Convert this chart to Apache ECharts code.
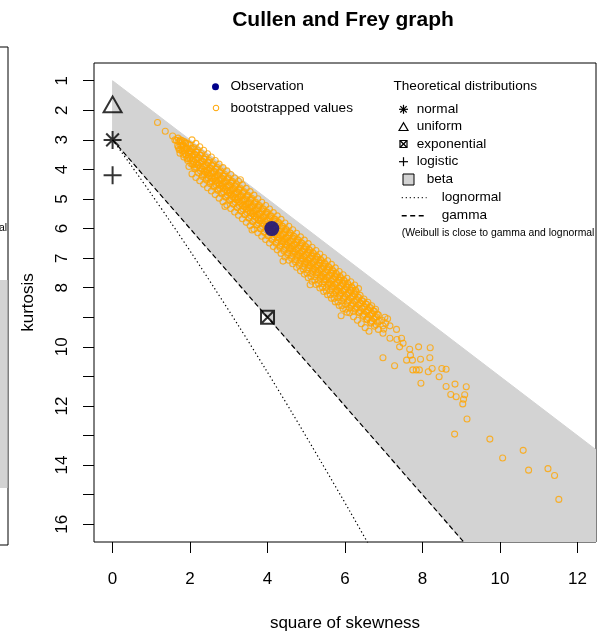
<!DOCTYPE html>
<html>
<head>
<meta charset="utf-8">
<script src="https://cdn.jsdelivr.net/npm/echarts@6/dist/echarts.min.js"></script>
<style>
  html, body { margin: 0; padding: 0; background: #ffffff; }
  #chart { width: 603px; height: 639px; }
</style>
</head>
<body>
<div id="chart"></div>
<script>
// Axis ticks and labels
const xTickValues = [0, 2, 4, 6, 8, 10, 12];
const yTickValues = [1, 2, 3, 4, 5, 6, 7, 8, 9, 10, 11, 12, 13, 14, 15, 16];
const yLabelValues = [1, 2, 3, 4, 5, 6, 7, 8, 10, 12, 14, 16];

// Observed sample: [square of skewness, kurtosis]
const observation = [[4.11, 6.0]];

// Theoretical distributions (points)
const normalPoint = [[0, 3]];
const uniformPoint = [[0, 1.8]];
const exponentialPoint = [[4, 9]];
const logisticPoint = [[0, 4.2]];

// Theoretical distributions (curves)
const gammaLine = [[0, 3], [9.5, 17.25]];
const lognormalLine = [
  [0, 3], [0.229, 3.41], [0.465, 3.84], [0.709, 4.29], [0.961, 4.76],
  [1.488, 5.76], [2.048, 6.85], [2.641, 8.04], [3.267, 9.32], [3.928, 10.71],
  [4.624, 12.21], [5.356, 13.83], [6.125, 15.56], [6.931, 17.43]
];

// Beta region limits
const betaUpper = [[0, 1], [16, 17]];
const betaLower = [[0, 3], [11, 19.5]];

// Bootstrapped values: [square of skewness, kurtosis]
const bootstrapped = [
  [1.16,2.41],[1.36,2.71],[1.55,2.87],[1.61,3.00],
  [1.65,3.02],[1.68,3.20],
  [1.74,3.05],[1.76,3.31],[1.79,3.18],
  [1.83,3.22],[1.86,3.45],[1.88,3.12],[1.84,3.36],
  [1.93,3.30],[1.96,3.55],[1.98,3.38],[1.94,3.62],
  [2.03,3.41],[2.06,3.70],[2.08,3.52],[2.02,3.29],[2.07,3.84],
  [2.13,3.50],[2.16,3.79],[2.18,3.63],[2.12,3.92],[2.17,3.41],
  [2.23,3.61],[2.26,3.95],[2.28,3.74],[2.22,3.86],[2.27,3.52],
  [2.33,3.73],[2.36,4.06],[2.38,3.88],[2.32,4.18],[2.37,3.65],
  [2.43,3.84],[2.46,4.15],[2.48,4.01],[2.42,4.30],[2.47,3.77],[2.44,4.08],
  [2.53,3.95],[2.56,4.28],[2.58,4.11],[2.52,4.42],[2.57,3.86],
  [2.63,4.07],[2.66,4.38],[2.68,4.22],[2.62,4.55],[2.67,3.98],[2.64,4.30],
  [2.73,4.18],[2.76,4.51],[2.78,4.34],[2.72,4.66],[2.77,4.09],
  [2.83,4.30],[2.86,4.62],[2.88,4.45],[2.82,4.79],[2.87,4.21],[2.84,4.55],
  [2.93,4.41],[2.96,4.74],[2.98,4.57],[2.92,4.91],[2.97,4.30],[2.90,5.25],
  [3.03,4.53],[3.06,4.86],[3.08,4.69],[3.02,5.02],[3.07,4.42],[3.04,4.78],
  [3.13,4.64],[3.16,4.97],[3.18,4.81],[3.12,5.15],[3.17,4.55],
  [3.23,4.76],[3.26,5.09],[3.28,4.92],[3.22,5.28],[3.27,4.66],[3.24,5.01],
  [3.33,4.88],[3.36,5.22],[3.38,5.04],[3.32,5.40],[3.37,4.77],[3.30,4.35],
  [3.43,4.99],[3.46,5.33],[3.48,5.16],[3.42,5.52],[3.47,4.89],[3.44,5.25],
  [3.53,5.10],[3.56,5.46],[3.58,5.27],[3.52,5.63],[3.57,5.01],[3.60,6.05],
  [3.63,5.22],[3.66,5.57],[3.68,5.39],[3.62,5.76],[3.67,5.12],[3.64,5.49],
  [3.73,5.33],[3.76,5.70],[3.78,5.51],[3.72,5.88],[3.77,5.23],
  [3.83,5.45],[3.86,5.81],[3.88,5.62],[3.82,6.01],[3.87,5.34],[3.84,5.73],
  [3.93,5.56],[3.96,5.94],[3.98,5.74],[3.92,6.13],[3.97,5.46],
  [4.03,5.68],[4.06,6.05],[4.08,5.86],[4.02,6.25],[4.07,5.57],[4.04,5.97],
  [4.13,5.79],[4.16,6.18],[4.18,5.98],[4.12,6.38],[4.17,5.69],
  [4.23,5.91],[4.26,6.29],[4.28,6.09],[4.22,6.50],[4.27,5.80],[4.24,6.21],
  [4.33,6.02],[4.36,6.42],[4.38,6.21],[4.32,6.63],[4.37,5.92],[4.40,7.10],
  [4.43,6.14],[4.46,6.53],[4.48,6.33],[4.42,6.75],[4.47,6.03],[4.44,6.45],
  [4.53,6.25],[4.56,6.66],[4.58,6.44],[4.52,6.88],[4.57,6.14],
  [4.63,6.37],[4.66,6.77],[4.68,6.56],[4.62,7.00],[4.67,6.26],[4.64,6.69],
  [4.73,6.48],[4.76,6.90],[4.78,6.68],[4.72,7.12],[4.77,6.37],
  [4.83,6.60],[4.86,7.01],[4.88,6.79],[4.82,7.25],[4.87,6.48],[4.84,6.93],
  [4.93,6.71],[4.96,7.14],[4.98,6.91],[4.92,7.37],[4.97,6.60],
  [5.03,6.83],[5.06,7.25],[5.08,7.03],[5.02,7.50],[5.07,6.71],[5.04,7.17],[5.10,7.90],
  [5.13,6.94],[5.16,7.38],[5.18,7.15],[5.12,7.62],[5.17,6.82],
  [5.23,7.06],[5.26,7.49],[5.28,7.26],[5.22,7.74],[5.27,6.94],[5.24,7.41],
  [5.33,7.17],[5.36,7.62],[5.38,7.38],[5.32,7.87],[5.37,7.05],
  [5.43,7.29],[5.46,7.73],[5.48,7.50],[5.42,7.99],[5.47,7.16],[5.44,7.64],
  [5.53,7.40],[5.56,7.86],[5.58,7.61],[5.52,8.11],[5.57,7.28],
  [5.63,7.52],[5.66,7.97],[5.68,7.73],[5.62,8.24],[5.67,7.39],[5.64,7.88],
  [5.73,7.63],[5.76,8.10],[5.78,7.85],[5.72,8.36],[5.77,7.51],
  [5.83,7.75],[5.86,8.21],[5.88,7.96],[5.82,8.48],[5.87,7.62],[5.84,8.12],
  [5.93,7.86],[5.96,8.34],[5.98,8.08],[5.92,8.61],[5.97,7.74],[5.90,8.95],
  [6.03,7.98],[6.06,8.45],[6.08,8.20],[6.02,8.73],[6.07,7.85],
  [6.13,8.09],[6.16,8.58],[6.18,8.31],[6.12,8.85],[6.17,7.97],
  [6.23,8.21],[6.26,8.69],[6.28,8.43],[6.22,8.98],[6.27,8.08],
  [6.33,8.32],[6.36,8.82],[6.38,8.55],[6.32,9.10],
  [6.43,8.44],[6.46,8.93],[6.48,8.66],[6.42,9.22],
  [6.53,8.55],[6.56,9.06],[6.58,8.78],[6.52,9.35],
  [6.63,8.67],[6.66,9.17],[6.68,8.90],[6.62,9.47],
  [6.73,8.78],[6.76,9.30],[6.78,9.01],
  [6.83,8.90],[6.86,9.41],[6.88,9.13],
  [1.69,2.94],[1.71,3.06],[1.70,3.26],[1.72,3.33],
  [1.79,3.02],[1.81,3.16],[1.80,3.38],[1.82,3.49],
  [1.89,3.10],[1.91,3.28],[1.90,3.51],[1.92,3.63],
  [1.99,3.17],[2.01,3.38],[2.00,3.63],[2.02,3.80],
  [2.09,3.26],[2.11,3.49],[2.10,3.75],[2.12,3.98],
  [2.19,3.34],[2.21,3.60],[2.20,3.86],[2.22,4.12],
  [2.29,3.46],[2.31,3.72],[2.30,3.98],[2.32,4.24],
  [2.39,3.58],[2.41,3.84],[2.40,4.10],[2.42,4.36],
  [2.49,3.70],[2.51,3.96],[2.50,4.22],[2.52,4.48],
  [2.59,3.81],[2.61,4.07],[2.60,4.33],[2.62,4.59],
  [2.69,3.93],[2.71,4.19],[2.70,4.45],[2.72,4.71],
  [2.79,4.05],[2.81,4.31],[2.80,4.57],[2.82,4.83],
  [2.89,4.16],[2.91,4.42],[2.90,4.68],[2.92,4.94],
  [2.99,4.28],[3.01,4.54],[3.00,4.80],[3.02,5.06],
  [3.09,4.40],[3.11,4.66],[3.10,4.92],[3.12,5.18],
  [3.19,4.51],[3.21,4.77],[3.20,5.03],[3.22,5.29],
  [3.29,4.63],[3.31,4.89],[3.30,5.15],[3.32,5.41],
  [3.39,4.75],[3.41,5.01],[3.40,5.27],[3.42,5.53],
  [3.49,4.87],[3.51,5.13],[3.50,5.39],[3.52,5.65],
  [3.59,4.98],[3.61,5.24],[3.60,5.50],[3.62,5.76],
  [3.69,5.10],[3.71,5.36],[3.70,5.62],[3.72,5.88],
  [3.79,5.22],[3.81,5.48],[3.80,5.74],[3.82,6.00],
  [3.89,5.33],[3.91,5.59],[3.90,5.85],[3.92,6.11],
  [3.99,5.45],[4.01,5.71],[4.00,5.97],[4.02,6.23],
  [4.09,5.57],[4.11,5.83],[4.10,6.09],[4.12,6.35],
  [4.19,5.68],[4.21,5.94],[4.20,6.20],[4.22,6.46],
  [4.29,5.80],[4.31,6.06],[4.30,6.32],[4.32,6.58],
  [4.39,5.92],[4.41,6.18],[4.40,6.44],[4.42,6.70],
  [4.49,6.04],[4.51,6.30],[4.50,6.56],[4.52,6.82],
  [4.59,6.15],[4.61,6.41],[4.60,6.67],[4.62,6.93],
  [4.69,6.27],[4.71,6.53],[4.70,6.79],[4.72,7.05],
  [4.79,6.39],[4.81,6.65],[4.80,6.91],[4.82,7.17],
  [4.89,6.50],[4.91,6.76],[4.90,7.02],[4.92,7.28],
  [4.99,6.62],[5.01,6.88],[5.00,7.14],[5.02,7.40],
  [5.09,6.74],[5.11,7.00],[5.10,7.26],[5.12,7.52],
  [5.19,6.85],[5.21,7.11],[5.20,7.37],[5.22,7.63],
  [5.29,6.97],[5.31,7.23],[5.30,7.49],[5.32,7.75],
  [5.39,7.09],[5.41,7.35],[5.40,7.61],[5.42,7.87],
  [5.49,7.21],[5.51,7.47],[5.50,7.73],[5.52,7.99],
  [5.59,7.32],[5.61,7.58],[5.60,7.84],[5.62,8.10],
  [5.69,7.44],[5.71,7.70],[5.70,7.96],[5.72,8.22],
  [5.79,7.56],[5.81,7.82],[5.80,8.08],[5.82,8.34],
  [5.89,7.67],[5.91,7.93],[5.90,8.19],[5.92,8.45],
  [5.99,7.79],[6.01,8.05],[6.00,8.31],[6.02,8.57],
  [6.09,7.91],[6.11,8.17],[6.10,8.43],[6.12,8.69],
  [6.19,8.02],[6.21,8.28],[6.20,8.54],[6.22,8.80],
  [6.29,8.14],[6.31,8.40],[6.30,8.66],
  [6.39,8.26],[6.41,8.52],[6.40,8.78],
  [6.49,8.38],[6.51,8.64],[6.50,8.90],
  [6.59,8.49],[6.61,8.75],[6.60,9.01],
  [6.69,8.61],[6.71,8.87],[6.70,9.13],
  [6.79,8.73],[6.81,8.99],[6.80,9.25],
  [1.75,3.00],[1.76,3.20],[1.74,3.45],
  [1.85,3.06],[1.86,3.32],[1.84,3.58],
  [1.95,3.13],[1.96,3.43],[1.94,3.70],[1.97,3.90],
  [2.05,3.00],[2.06,3.30],[2.04,3.55],[2.07,3.82],[2.05,4.15],
  [2.15,3.12],[2.16,3.42],[2.14,3.67],[2.17,3.94],[2.15,4.27],
  [2.25,3.23],[2.26,3.53],[2.24,3.78],[2.27,4.05],[2.25,4.38],
  [2.35,3.35],[2.36,3.65],[2.34,3.90],[2.37,4.17],[2.35,4.50],
  [2.45,3.47],[2.46,3.77],[2.44,4.02],[2.47,4.29],[2.45,4.62],
  [2.55,3.58],[2.56,3.88],[2.54,4.13],[2.57,4.40],[2.55,4.73],
  [2.65,3.70],[2.66,4.00],[2.64,4.25],[2.67,4.52],[2.65,4.85],
  [2.75,3.82],[2.76,4.12],[2.74,4.37],[2.77,4.64],[2.75,4.97],
  [2.85,3.94],[2.86,4.24],[2.84,4.49],[2.87,4.76],[2.85,5.09],
  [2.95,4.05],[2.96,4.35],[2.94,4.60],[2.97,4.87],[2.95,5.20],
  [3.05,4.17],[3.06,4.47],[3.04,4.72],[3.07,4.99],[3.05,5.32],
  [3.15,4.29],[3.16,4.59],[3.14,4.84],[3.17,5.11],[3.15,5.44],
  [3.25,4.40],[3.26,4.70],[3.24,4.95],[3.27,5.22],[3.25,5.55],
  [3.35,4.52],[3.36,4.82],[3.34,5.07],[3.37,5.34],[3.35,5.67],
  [3.45,4.64],[3.46,4.94],[3.44,5.19],[3.47,5.46],[3.45,5.79],
  [3.55,4.75],[3.56,5.05],[3.54,5.30],[3.57,5.57],[3.55,5.90],
  [3.65,4.87],[3.66,5.17],[3.64,5.42],[3.67,5.69],[3.65,6.02],
  [3.75,4.99],[3.76,5.29],[3.74,5.54],[3.77,5.81],[3.75,6.14],
  [3.85,5.11],[3.86,5.41],[3.84,5.66],[3.87,5.93],[3.85,6.26],
  [3.95,5.22],[3.96,5.52],[3.94,5.77],[3.97,6.04],[3.95,6.37],
  [4.05,5.34],[4.06,5.64],[4.04,5.89],[4.07,6.16],[4.05,6.49],
  [4.15,5.46],[4.16,5.76],[4.14,6.01],[4.17,6.28],[4.15,6.61],
  [4.25,5.57],[4.26,5.87],[4.24,6.12],[4.27,6.39],[4.25,6.72],
  [4.35,5.69],[4.36,5.99],[4.34,6.24],[4.37,6.51],[4.35,6.84],
  [4.45,5.81],[4.46,6.11],[4.44,6.36],[4.47,6.63],[4.45,6.96],
  [4.55,5.92],[4.56,6.22],[4.54,6.47],[4.57,6.74],[4.55,7.07],
  [4.65,6.04],[4.66,6.34],[4.64,6.59],[4.67,6.86],[4.65,7.19],
  [4.75,6.16],[4.76,6.46],[4.74,6.71],[4.77,6.98],[4.75,7.31],
  [4.85,6.28],[4.86,6.58],[4.84,6.83],[4.87,7.10],[4.85,7.43],
  [4.95,6.39],[4.96,6.69],[4.94,6.94],[4.97,7.21],[4.95,7.54],
  [5.05,6.51],[5.06,6.81],[5.04,7.06],[5.07,7.33],[5.05,7.66],
  [5.15,6.63],[5.16,6.93],[5.14,7.18],[5.17,7.45],[5.15,7.78],
  [5.25,6.74],[5.26,7.04],[5.24,7.29],[5.27,7.56],[5.25,7.89],
  [5.35,6.86],[5.36,7.16],[5.34,7.41],[5.37,7.68],[5.35,8.01],
  [5.45,6.98],[5.46,7.28],[5.44,7.53],[5.47,7.80],[5.45,8.13],
  [5.55,7.09],[5.56,7.39],[5.54,7.64],[5.57,7.91],[5.55,8.24],
  [5.65,7.21],[5.66,7.51],[5.64,7.76],[5.67,8.03],[5.65,8.36],
  [5.75,7.33],[5.76,7.63],[5.74,7.88],[5.77,8.15],[5.75,8.48],
  [5.85,7.45],[5.86,7.75],[5.84,8.00],[5.87,8.27],[5.85,8.60],
  [5.95,7.56],[5.96,7.86],[5.94,8.11],[5.97,8.38],[5.95,8.71],
  [6.05,7.68],[6.06,7.98],[6.04,8.23],[6.07,8.50],[6.05,8.83],
  [6.15,7.80],[6.16,8.10],[6.14,8.35],[6.17,8.62],
  [6.25,7.91],[6.26,8.21],[6.24,8.46],[6.27,8.73],
  [6.35,8.03],[6.36,8.33],[6.34,8.58],[6.37,8.85],
  [6.46,8.45],[6.44,8.70],[6.47,8.97],
  [6.56,8.56],[6.54,8.81],[6.57,9.08],
  [6.66,8.68],[6.64,8.93],[6.67,9.20],
  [6.76,8.80],[6.74,9.05],
  [6.86,8.92],[6.84,9.17],
  [6.95,9.10],[7.05,9.20],[7.10,9.05],[7.00,9.40],
  [6.98,9.29],[7.03,9.00],[7.16,9.29],[6.98,9.54],[7.16,9.71],[7.33,9.41],
  [7.34,9.75],[7.46,9.71],[7.50,9.88],[7.41,10.00],[6.98,10.37],[7.28,10.64],
  [7.59,10.45],[7.74,10.45],[7.69,10.28],[7.67,10.08],[7.90,10.00],[7.84,10.78],
  [7.75,10.78],[7.92,10.78],[7.95,10.42],[8.20,10.03],[8.19,10.37],[8.25,10.73],
  [8.15,10.84],[8.61,10.76],[8.50,10.73],[7.96,11.23],[8.43,11.01],[8.61,11.34],
  [8.84,11.26],[8.73,11.61],[8.87,11.69],[9.13,11.35],[9.09,11.62],[9.06,11.77],
  [9.04,11.93],[9.15,12.44],[8.83,12.95],[9.74,13.12],[10.07,13.76],[10.60,13.50],
  [10.74,14.17],[11.24,14.12],[11.41,14.35],[11.52,15.16]
];

const FONT = 'Liberation Sans, Arial, Helvetica, sans-serif';
const BASE = 17;

const chart = echarts.init(document.getElementById('chart'), null, { renderer: 'canvas' });

// R-style plotting symbols
const SYM_ASTERISK = 'path://M10,0L10,20M0,10L20,10M2.93,2.93L17.07,17.07M2.93,17.07L17.07,2.93';
const SYM_TRIANGLE = 'path://M0,17.32L10,0L20,17.32Z';
const SYM_PLUS = 'path://M10,0L10,20M0,10L20,10';
const SYM_BOXX = 'path://M0,0L20,0L20,20L0,20ZM0,0L20,20M20,0L0,20';

function pointSeries(data, symbol, size) {
  return {
    type: 'scatter', data: data, symbol: symbol, symbolSize: size,
    symbolKeepAspect: true,
    itemStyle: { color: 'transparent', borderColor: '#000', borderWidth: 2 },
    silent: true, z: 6
  };
}

const legendFont = { fontFamily: FONT, fontSize: 13.6, fill: '#000' };

// stroke segments for the small legend glyphs
function seg(x1, y1, x2, y2, w) {
  return { type: 'line', shape: { x1: x1, y1: y1, x2: x2, y2: y2 }, style: { stroke: '#000', lineWidth: w || 1.2 } };
}
function legendText(x, y, text, size) {
  return { type: 'text', x: x, y: y, style: Object.assign({}, legendFont, { text: text, fontSize: size || 13.6, verticalAlign: 'middle' }) };
}

const option = {
  animation: false,
  backgroundColor: '#ffffff',
  title: {
    text: 'Cullen and Frey graph',
    left: 338, top: 5, textAlign: 'center',
    textStyle: { fontFamily: FONT, fontSize: 21, fontWeight: 'bold', color: '#000' }
  },
  grid: {
    left: 94, right: 7, top: 63, bottom: 97,
    show: true, borderColor: '#000', borderWidth: 1, backgroundColor: 'transparent'
  },
  xAxis: {
    type: 'value', min: -0.48, max: 12.48,
    name: 'square of skewness', nameLocation: 'middle', nameGap: 73,
    nameTextStyle: { fontFamily: FONT, fontSize: BASE, color: '#000' },
    axisLine: { show: false, onZero: false },
    axisTick: { show: true, customValues: xTickValues, length: 11, lineStyle: { color: '#000', width: 1 } },
    axisLabel: { customValues: xTickValues, fontFamily: FONT, fontSize: BASE, color: '#000', margin: 29 },
    splitLine: { show: false }
  },
  yAxis: {
    type: 'value', inverse: true, min: 0.4, max: 16.6,
    name: 'kurtosis', nameLocation: 'middle', nameGap: 57,
    nameTextStyle: { fontFamily: FONT, fontSize: BASE, color: '#000' },
    axisLine: { show: false, onZero: false },
    axisTick: { show: true, customValues: yTickValues, length: 11, lineStyle: { color: '#000', width: 1 } },
    axisLabel: { customValues: yLabelValues, rotate: 90, fontFamily: FONT, fontSize: BASE, color: '#000', margin: 23 },
    splitLine: { show: false }
  },
  series: [
    {
      // beta region
      type: 'custom', clip: true, silent: true, z: 1,
      data: [[0, 0]],
      renderItem: function (params, api) {
        const pts = betaUpper.concat(betaLower.slice().reverse()).map(function (p) { return api.coord(p); });
        return { type: 'polygon', shape: { points: pts }, style: { fill: '#d3d3d3', stroke: '#d3d3d3' } };
      }
    },
    {
      type: 'line', data: gammaLine, symbol: 'none', silent: true, z: 3,
      lineStyle: { color: '#000', width: 1.2, type: [5, 3] }
    },
    {
      type: 'line', data: lognormalLine, symbol: 'none', smooth: 0.3, silent: true, z: 3,
      lineStyle: { color: '#000', width: 1.2, type: [1.3, 2.7] }
    },
    {
      type: 'scatter', data: bootstrapped, symbol: 'circle', symbolSize: 6, silent: true, z: 4,
      itemStyle: { color: 'transparent', borderColor: '#FFA500', borderWidth: 1.1 }
    },
    {
      type: 'scatter', data: observation, symbol: 'circle', symbolSize: 15, silent: true, z: 5,
      itemStyle: { color: '#00008B' }
    },
    pointSeries(normalPoint, SYM_ASTERISK, 18),
    pointSeries(uniformPoint, SYM_TRIANGLE, 18),
    pointSeries(exponentialPoint, SYM_BOXX, 13),
    pointSeries(logisticPoint, SYM_PLUS, 18)
  ],
  graphic: [
    // neighbouring panel edge
    seg(8, 47, 8, 545, 1), seg(0, 47, 8, 47, 1), seg(0, 545, 8, 545, 1),
    { type: 'rect', shape: { x: 0, y: 280, width: 7.5, height: 208 }, style: { fill: '#d3d3d3' } },
    { type: 'text', x: 7, y: 228, style: Object.assign({}, legendFont, { text: 'al', fontSize: 10.4, align: 'right', verticalAlign: 'middle' }) },

    // sample legend
    { type: 'circle', shape: { cx: 215.5, cy: 86.7, r: 3.5 }, style: { fill: '#00008B' } },
    legendText(230.5, 86.7, 'Observation'),
    { type: 'circle', shape: { cx: 216, cy: 108, r: 2.8 }, style: { fill: 'none', stroke: '#FFA500', lineWidth: 1 } },
    legendText(230.5, 108, 'bootstrapped values'),

    // theoretical distributions legend
    legendText(393.5, 86.7, 'Theoretical distributions'),
    seg(403.5, 104.8, 403.5, 113.8), seg(399, 109.3, 408, 109.3),
    seg(400.3, 106.1, 406.7, 112.5), seg(400.3, 112.5, 406.7, 106.1),
    legendText(416.7, 109.3, 'normal'),
    { type: 'polygon', shape: { points: [[399, 130.5], [403.5, 122.7], [408, 130.5]] }, style: { stroke: '#000', lineWidth: 1.2, fill: 'none' } },
    legendText(416.7, 126.7, 'uniform'),
    { type: 'rect', shape: { x: 400, y: 140.5, width: 7, height: 7 }, style: { stroke: '#000', lineWidth: 1.2, fill: 'none' } },
    seg(400, 140.5, 407, 147.5), seg(407, 140.5, 400, 147.5),
    legendText(416.7, 144, 'exponential'),
    seg(403.5, 157.2, 403.5, 166.2), seg(399, 161.7, 408, 161.7),
    legendText(416.7, 161.7, 'logistic'),
    { type: 'rect', shape: { x: 403, y: 174, width: 11, height: 11 }, style: { fill: '#d3d3d3', stroke: '#000', lineWidth: 1 } },
    legendText(426.7, 179.3, 'beta'),
    { type: 'line', shape: { x1: 401.7, y1: 197.7, x2: 426.7, y2: 197.7 }, style: { stroke: '#000', lineWidth: 1, lineDash: [1.3, 2.7] } },
    legendText(441.7, 197.7, 'lognormal'),
    { type: 'line', shape: { x1: 401.7, y1: 215.7, x2: 426.7, y2: 215.7 }, style: { stroke: '#000', lineWidth: 1.4, lineDash: [5, 3.5] } },
    legendText(441.7, 215.7, 'gamma'),
    legendText(401.7, 233.3, '(Weibull is close to gamma and lognormal', 10.4)
  ]
};

chart.setOption(option);
</script>
</body>
</html>
